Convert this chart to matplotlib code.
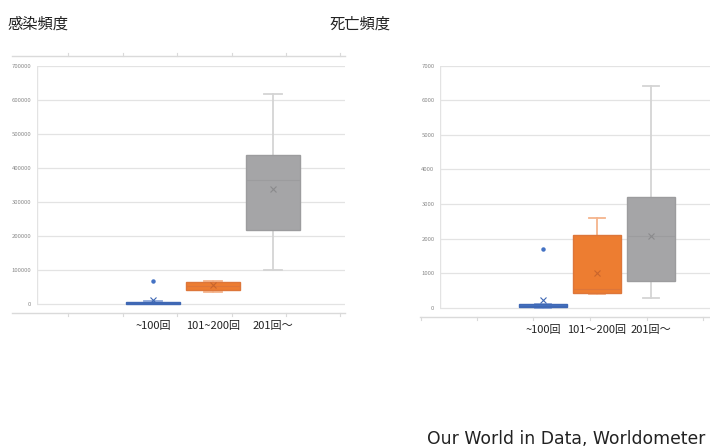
import matplotlib.pyplot as plt
from matplotlib.lines import Line2D

plt.rcParams['font.family'] = ['Noto Sans CJK JP', 'DejaVu Sans']

# infections per group (box statistics)
cases_labels = ['~100回', '101~200回', '201回～']
cases_whislo = [0, 34500, 99000]
cases_q1 = [500, 40000, 218000]
cases_med = [2000, 52000, 364000]
cases_q3 = [6500, 65000, 438000]
cases_whishi = [8000, 66500, 617000]
cases_mean = [11500, 55800, 337000]
cases_fliers = [[67500], [], []]
cases_ticks = [0, 100000, 200000, 300000, 400000, 500000, 600000, 700000]

# deaths per group (box statistics)
deaths_labels = ['~100回', '101～200回', '201回～']
deaths_whislo = [5, 387, 281]
deaths_q1 = [12, 416, 772]
deaths_med = [50, 532, 2074]
deaths_q3 = [98, 2094, 3211]
deaths_whishi = [110, 2584, 6413]
deaths_mean = [231, 1013, 2074]
deaths_fliers = [[1698], [], []]
deaths_ticks = [0, 1000, 2000, 3000, 4000, 5000, 6000, 7000]

fills = ['#4472C4', '#ED7D31', '#A5A5A7']
edges = ['#3F68B4', '#DD763A', '#9C9C9E']
whisk = ['#8FA8DA', '#F4B48C', '#D4D4D4']
marks = ['#3F68B4', '#C9652C', '#8A8A8C']

GRID = '#E3E3E3'


def stats_list(labels, lo, q1, med, q3, hi, mean, fliers):
    return [dict(label=labels[i], whislo=lo[i], q1=q1[i], med=med[i], q3=q3[i],
                 whishi=hi[i], mean=mean[i], fliers=fliers[i])
            for i in range(len(labels))]


def draw_box(ax, stats, ticks, xlim, ylim):
    bp = ax.bxp(stats, positions=[1, 2, 3], widths=0.9, capwidths=0.3,
                patch_artist=True, showmeans=True, showfliers=True)
    for i in range(3):
        bp['boxes'][i].set(facecolor=fills[i], edgecolor=edges[i], linewidth=1.0, zorder=3)
        bp['medians'][i].set(color=edges[i], linewidth=0.8, zorder=4)
        for art in bp['whiskers'][2 * i:2 * i + 2] + bp['caps'][2 * i:2 * i + 2]:
            art.set(color=whisk[i], linewidth=1.3, zorder=2)
        bp['means'][i].set(marker='x', markeredgecolor=marks[i], markersize=4.5,
                           markeredgewidth=0.8, zorder=5)
        bp['fliers'][i].set(marker='o', markerfacecolor=fills[i], markeredgecolor=fills[i],
                            markersize=2.2)
    ax.set_xlim(xlim)
    ax.set_ylim(ylim)
    ax.set_yticks(ticks)
    ax.set_yticklabels([str(t) for t in ticks])
    ax.tick_params(axis='y', length=0, pad=4, labelsize=4.3, labelcolor='#8A8A8A')
    ax.tick_params(axis='x', length=0, pad=6, labelsize=8, labelcolor='#222222')
    ax.grid(axis='y', color=GRID, linewidth=0.9, zorder=0)
    ax.set_axisbelow(True)
    for s in ax.spines.values():
        s.set_visible(False)
    ax.vlines(xlim[0], 0, ticks[-1], color=GRID, linewidth=1.0, zorder=1)


fig = plt.figure(figsize=(7.1, 4.48), dpi=100)
W, H = 710, 448


def fig_line(x0, x1, y, ticks_x, up):
    yf = 1 - y / H
    fig.add_artist(Line2D([x0 / W, x1 / W], [yf, yf], color='#DADADA', linewidth=1.0))
    d = 3 / H if up else -3 / H
    for tx in ticks_x:
        fig.add_artist(Line2D([tx / W, tx / W], [yf, yf + d], color='#DADADA', linewidth=0.8))


# left panel: infections
ax1 = fig.add_axes([37 / W, 1 - 313 / H, (345 - 37) / W, (313 - 65.7) / H])
draw_box(ax1, stats_list(cases_labels, cases_whislo, cases_q1, cases_med, cases_q3,
                         cases_whishi, cases_mean, cases_fliers),
         cases_ticks, (-0.933, 4.2), (-26400, 700000))
fig_line(12, 345, 56, [68, 123, 177, 232, 286, 340], True)
fig_line(12, 345, 313, [68, 123, 177, 232, 286, 340], False)

# right panel: deaths
ax2 = fig.add_axes([440 / W, 1 - 317 / H, (W - 440) / W, (317 - 65.7) / H])
draw_box(ax2, stats_list(deaths_labels, deaths_whislo, deaths_q1, deaths_med, deaths_q3,
                         deaths_whishi, deaths_mean, deaths_fliers),
         deaths_ticks, (-0.907, 4.09), (-269, 7000))
fig_line(420, 710, 317, [421, 477, 533, 590, 647, 703], False)

fig.text(8 / W, 1 - 24 / H, '感染頻度', fontsize=11, va='center', ha='left', color='#222222')
fig.text(330 / W, 1 - 24 / H, '死亡頻度', fontsize=11, va='center', ha='left', color='#222222')
fig.text(705 / W, 1 - 443.5 / H, 'Our World in Data, Worldometer', fontsize=12.4,
         family='DejaVu Sans', ha='right', va='baseline', color='#222222')

fig.savefig('out.png', dpi=100)
